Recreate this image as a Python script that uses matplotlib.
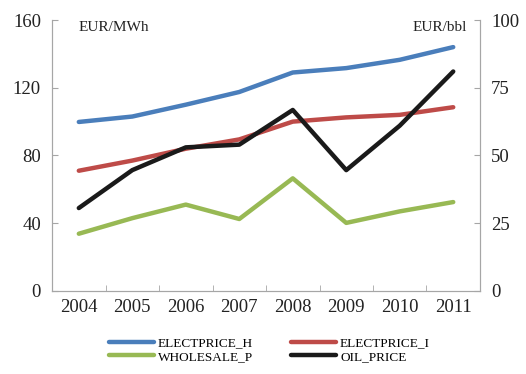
import matplotlib
matplotlib.use("Agg")
import matplotlib.pyplot as plt
import numpy as np
from matplotlib.ticker import FixedLocator

plt.rcParams['font.family'] = ['Liberation Serif', 'DejaVu Serif']

years = ['2004', '2005', '2006', '2007', '2008', '2009', '2010', '2011']
electprice_h = [99.8, 103.0, 110.0, 117.5, 129.0, 131.6, 136.5, 144.0]
electprice_i = [71.0, 77.0, 84.0, 89.5, 100.0, 102.5, 104.0, 108.5]
wholesale_p = [33.8, 43.0, 51.0, 42.5, 66.5, 40.2, 47.0, 52.5]
oil_price = [30.6, 44.6, 53.0, 54.0, 66.8, 44.6, 61.0, 81.0]

fig = plt.figure(figsize=(5.26, 3.74), dpi=100)
ax = fig.add_axes([0.099, 0.222, 0.8135, 0.7245])
ax2 = ax.twinx()

x = np.arange(len(years))
lw = 3.2
l1, = ax.plot(x, electprice_h, color='#4a7ebb', lw=lw, label='ELECTPRICE_H', solid_capstyle='round')
l2, = ax.plot(x, electprice_i, color='#be4b48', lw=lw, label='ELECTPRICE_I', solid_capstyle='round')
l3, = ax.plot(x, wholesale_p, color='#98b954', lw=lw, label='WHOLESALE_P', solid_capstyle='round')
l4, = ax2.plot(x, oil_price, color='#1a1a1a', lw=lw, label='OIL_PRICE', solid_capstyle='round')

ax.set_xlim(-0.5, len(years) - 0.5)
ax.set_ylim(0, 160)
ax2.set_ylim(0, 100)
ax.set_yticks([0, 40, 80, 120, 160])
ax2.set_yticks([0, 25, 50, 75, 100])
ax.set_xticks(x)
ax.set_xticklabels(years)
ax.xaxis.set_minor_locator(FixedLocator(np.arange(0.5, len(years) - 1, 1.0)))

gray = '#a6a6a6'
for a in (ax, ax2):
    for s in a.spines.values():
        s.set_color(gray)
    a.spines['top'].set_visible(False)
    a.tick_params(colors=gray, labelcolor='#222222', labelsize=13.5, direction='in', length=4)
ax.tick_params(axis='x', which='major', length=0, pad=6)
ax.tick_params(axis='x', which='minor', length=4, direction='in', colors=gray)
ax.tick_params(axis='y', pad=8)
ax2.tick_params(axis='y', pad=8)

ax.text(0.062, 0.995, 'EUR/MWh', transform=ax.transAxes, fontsize=11, va='top', ha='left', color='#222222')
ax2.text(0.97, 0.995, 'EUR/bbl', transform=ax.transAxes, fontsize=11, va='top', ha='right', color='#222222')

fig.legend(handles=[l1, l3, l2, l4], labels=['ELECTPRICE_H', 'WHOLESALE_P', 'ELECTPRICE_I', 'OIL_PRICE'],
           ncol=2, loc='upper left', bbox_to_anchor=(109 / 526, 1 - 337 / 374), frameon=False, fontsize=9.5,
           handlelength=3.4, handletextpad=0.3, columnspacing=2.9, labelspacing=0.12,
           borderpad=0, borderaxespad=0)

fig.savefig('out.png', dpi=100)
